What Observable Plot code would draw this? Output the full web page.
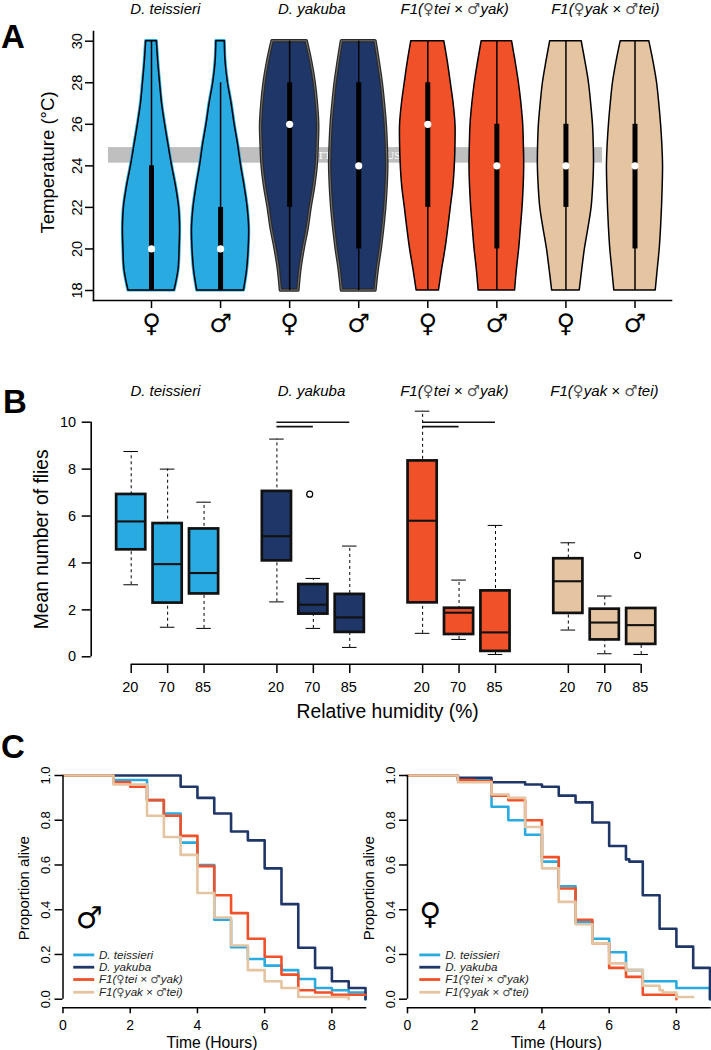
<!DOCTYPE html>
<html><head><meta charset="utf-8">
<script src="https://cdn.jsdelivr.net/npm/d3@7"></script>
<script src="https://cdn.jsdelivr.net/npm/@observablehq/plot@0.6"></script>
<style>
html,body{margin:0;padding:0;background:#fff}
#page{position:relative;width:711px;height:1050px;overflow:hidden;font-family:"Liberation Sans",Arial,sans-serif}
.panel{position:absolute;left:0;top:0;width:711px}
.panel svg{display:block;max-width:none}
.letter{position:absolute;font:bold 33px "Liberation Sans",Arial,sans-serif;color:#000;line-height:1}
</style></head><body><div id="page"></div>
<script>
// ---- shared ----
const groupNames = ["D. teissieri","D. yakuba","F1(♀tei × ♂yak)","F1(♀yak × ♂tei)"];
const BLUE="#29abe2", NAVY="#1f3668", RED="#f15129", TAN="#e5c4a1";
const groupColors = [BLUE,NAVY,RED,TAN];
const FONT='"Liberation Sans",Arial,sans-serif';
const SYMFONT='"DejaVu Sans"';

// ---- Panel A: violins ----
const temps = [18,19,20,21,22,23,24,25,26,27,28,29,30];
// half-widths in units of one violin slot, read at each temperature
const violinWidths = [
 [.333,.391,.406,.413,.399,.355,.297,.246,.196,.152,.123,.097,.077],
 [.338,.384,.406,.413,.391,.348,.297,.254,.203,.159,.106,.072,.061],
 [.126,.155,.203,.261,.304,.355,.391,.406,.413,.394,.362,.312,.246],
 [.242,.275,.319,.355,.384,.403,.413,.406,.391,.365,.333,.290,.242],
 [.162,.207,.257,.297,.333,.370,.391,.401,.401,.374,.333,.290,.239],
 [.264,.290,.323,.348,.372,.388,.396,.391,.381,.355,.319,.272,.220],
 [.200,.236,.275,.326,.372,.394,.406,.403,.391,.365,.333,.283,.228],
 [.300,.329,.358,.377,.391,.401,.406,.396,.377,.351,.319,.268,.207]
];
const violinGroup = [0,0,1,1,2,2,3,3];
const violinSex   = ["♀","♂","♀","♂","♀","♂","♀","♂"];
const whiskerLow  = [18,18,18,18,18,18,18,18];
const whiskerHigh = [30,28,30,30,30,30,30,30];
const boxLow      = [18,18,22,20,22,20,22,20];
const boxHigh     = [24,22,28,28,28,26,26,26];
const medians     = [20,20,26,24,26,24,24,24];
const bandTemp    = [24.13,24.88];
const bandSlot    = [0.377,7.53];
const titleSlotsA = [1.2,3.32,5.39,7.57];
const tempTicks   = [18,20,22,24,26,28,30];

const violinRows = violinWidths.flatMap((w,i)=>w.map((h,j)=>({slot:i+1,t:temps[j],x1:i+1-h,x2:i+1+h,g:violinGroup[i]})));
const slots = violinWidths.map((_,i)=>i+1);
const violinByGroup = g => violinRows.filter(d=>d.g===g);
const violinArea = (data,o) => Plot.areaX(data,{x1:"x1",x2:"x2",y:"t",z:"slot",curve:"catmull-rom",...o});

const plotA = Plot.plot({
  width:711,height:345,marginLeft:93,marginRight:40,marginTop:31,marginBottom:45,
  style:{fontFamily:FONT,background:"transparent",color:"#000",overflow:"visible"},
  x:{domain:[1,8],range:[151,634.5]},
  y:{domain:[18,30],range:[290,40.7]},
  marks:[
    Plot.rectY([0],{x1:()=>bandSlot[0],x2:()=>bandSlot[1],y1:()=>bandTemp[0],y2:()=>bandTemp[1],fill:"#bfbfbf"}),
    Plot.text(["TT"],{x:()=>3.5,y:()=>24.5,text:d=>d,fill:"#fff",fontFamily:"Liberation Serif",fontSize:11}),
    Plot.text(["US"],{x:()=>4.5,y:()=>24.5,text:d=>d,fill:"#fff",fontFamily:"Liberation Serif",fontSize:11}),
    violinArea(violinByGroup(0),{fill:BLUE,stroke:BLUE,strokeWidth:3.2}),
    violinArea(violinByGroup(0),{fill:BLUE,stroke:"#000",strokeWidth:1.5}),
    violinArea(violinByGroup(1),{fill:NAVY,stroke:"#2a2a2a",strokeWidth:3.6}),
    violinArea(violinByGroup(1),{fill:"none",stroke:"#6e6e6e",strokeWidth:1.1}),
    violinArea(violinByGroup(2),{fill:RED,stroke:"#000",strokeWidth:1.5}),
    violinArea(violinByGroup(3),{fill:TAN,stroke:"#000",strokeWidth:1.5}),
    Plot.ruleX(slots,{x:d=>d,y1:d=>whiskerLow[d-1],y2:d=>whiskerHigh[d-1],stroke:"#000",strokeWidth:1.5}),
    Plot.ruleX(slots,{x:d=>d,y1:d=>boxLow[d-1],y2:d=>boxHigh[d-1],stroke:"#000",strokeWidth:5}),
    Plot.dot(slots,{x:d=>d,y:d=>medians[d-1],r:3.6,fill:"#fff",stroke:"none"}),
    Plot.frame({anchor:"left",stroke:"#000",strokeWidth:1.6}),
    Plot.frame({anchor:"bottom",stroke:"#000",strokeWidth:1.6}),
    Plot.axisX(slots,{anchor:"bottom",tickSize:8,tickPadding:5,strokeWidth:1.5,tickFormat:d=>violinSex[d-1],fontSize:25.5,fontFamily:SYMFONT,label:null}),
    Plot.axisY(tempTicks,{anchor:"left",tickSize:8,tickPadding:4,strokeWidth:1.5,tickRotate:-90,fontSize:14.5,label:null}),
    Plot.text(["Temperature (°C)"],{frameAnchor:"left",rotate:-90,textAnchor:"middle",dx:-45,dy:-3.5,text:d=>d,fontSize:18.5}),
    Plot.text(groupNames,{x:(d,i)=>titleSlotsA[i],frameAnchor:"top",dy:-28,text:d=>d,fontStyle:"italic",fontSize:15})
  ]
});

// ---- Panel B: box plots ----
const humidity = [20,70,85,20,70,85,20,70,85,20,70,85];
const boxPos   = [1,2,3,5,6,7,9,10,11,13,14,15];
const boxGroup = [0,0,0,1,1,1,2,2,2,3,3,3];
const lowWhisk = [3.07,1.26,1.21,2.34,1.21,0.40,1.00,0.74,0.10,1.14,0.13,0.10];
const q1s      = [4.56,2.29,2.68,4.09,1.82,1.04,2.30,0.95,0.23,1.85,0.72,0.53];
const meds     = [5.77,3.95,3.57,5.14,2.22,1.68,5.80,1.88,1.04,3.22,1.46,1.35];
const q3s      = [6.92,5.68,5.45,7.05,3.08,2.66,8.35,2.07,2.81,4.18,2.03,2.06];
const highWhisk= [8.75,8.00,6.59,9.28,3.34,4.72,10.47,3.27,5.60,4.86,2.59,2.10];
const outlierPos = [6,15];
const outlierVal = [6.93,4.32];
const sigLong  = [{x1:5,x2:7,y:10},{x1:9,x2:11,y:10}];
const sigShort = [{x1:5,x2:6,y:9.81},{x1:9,x2:10,y:9.81}];
const flyTicks = [0,2,4,6,8,10];
const titlePosB = [1.94,5.95,9.87,13.99];
const idx = boxPos.map((_,i)=>i);
const axisLevelB = -0.32, axisSideB = -0.098;

const plotB = Plot.plot({
  width:711,height:350,marginLeft:90.7,marginRight:30,marginTop:51.7,marginBottom:56,
  style:{fontFamily:FONT,background:"transparent",color:"#000",overflow:"visible"},
  x:{domain:[1,15],range:[130.7,640.7]},
  y:{domain:[0,10],range:[286.3,51.7]},
  marks:[
    Plot.ruleX(idx,{x:i=>boxPos[i],y1:i=>lowWhisk[i],y2:i=>highWhisk[i],stroke:"#000",strokeWidth:1,strokeDasharray:"3,3"}),
    Plot.ruleY(idx,{y:i=>lowWhisk[i],x1:i=>boxPos[i]-.2,x2:i=>boxPos[i]+.2,stroke:"#000",strokeWidth:1}),
    Plot.ruleY(idx,{y:i=>highWhisk[i],x1:i=>boxPos[i]-.2,x2:i=>boxPos[i]+.2,stroke:"#000",strokeWidth:1}),
    Plot.rectY(idx,{x1:i=>boxPos[i]-.4,x2:i=>boxPos[i]+.4,y1:i=>q1s[i],y2:i=>q3s[i],fill:i=>groupColors[boxGroup[i]],stroke:"#111",strokeWidth:2.7}),
    Plot.ruleY(idx,{y:i=>meds[i],x1:i=>boxPos[i]-.4,x2:i=>boxPos[i]+.4,stroke:"#111",strokeWidth:2.1}),
    Plot.dot(outlierPos,{x:d=>d-.1,y:(d,i)=>outlierVal[i],r:3,stroke:"#000",strokeWidth:1.2,fill:"#fff"}),
    Plot.ruleY(sigLong,{x1:"x1",x2:"x2",y:"y",stroke:"#111",strokeWidth:1.6}),
    Plot.ruleY(sigShort,{x1:"x1",x2:"x2",y:"y",stroke:"#111",strokeWidth:1.6}),
    Plot.ruleX([axisSideB],{y1:0,y2:10,stroke:"#000",strokeWidth:1.6}),
    Plot.ruleY([axisLevelB],{x1:1,x2:15,stroke:"#000",strokeWidth:1.6}),
    Plot.axisY(flyTicks,{anchor:"left",tickSize:9,tickPadding:6,strokeWidth:1.5,fontSize:14.5,label:null}),
    Plot.axisX(boxPos,{anchor:"bottom",tickSize:9,tickPadding:0,strokeWidth:1.5,tickFormat:()=>"",label:null}),
    Plot.axisX(boxPos,{anchor:"bottom",tickSize:0,tickPadding:17,dx:-1,fontSize:14.5,label:null,tickFormat:d=>String(humidity[boxPos.indexOf(d)])}),
    Plot.text(["Mean number of flies"],{frameAnchor:"left",rotate:-90,textAnchor:"middle",dx:-49,dy:-4,text:d=>d,fontSize:19.3}),
    Plot.text(["Relative humidity (%)"],{frameAnchor:"bottom",x:()=>8.04,dy:53,text:d=>d,fontSize:19.3}),
    Plot.text(groupNames,{x:(d,i)=>titlePosB[i],frameAnchor:"top",dy:-37,text:d=>d,fontStyle:"italic",fontSize:15})
  ]
});

// ---- Panel C: survival curves ----
const timesMale = [0,1.5,2,2.5,3,3.5,4,4.5,5,5.5,6,6.5,7,7.5,8,8.5,9];
const maleTei = [1,.98,.98,.89,.83,.70,.60,.355,.232,.18,.15,.13,.09,.05,.04,.03,0];
const maleYak = [1,1,1,1,1,.95,.90,.83,.75,.71,.585,.425,.23,.14,.08,.05,0];
const maleF1a = [1,.97,.95,.89,.82,.73,.595,.465,.385,.27,.19,.11,.04,.03,.02,.02,.02];
const maleF1b = [1,.96,.96,.82,.725,.645,.475,.365,.24,.13,.08,.05,.01,.01,.01,0,null];

const timesFem  = [0,1.5,2,2.5,3,3.5,4,4.5,5,5.5,6,6.5,6.6,7,7.5,7.6,8,8.5,9];
const femTei = [1,.98,.98,.86,.80,.735,.615,.505,.345,.27,.21,.13,.13,.08,.08,.08,.05,.05,0];
const femYak = [1,.99,.99,.97,.97,.96,.95,.91,.88,.79,.685,.625,.615,.465,.315,.315,.235,.14,0];
const femF1a = [1,.98,.975,.91,.89,.80,.635,.495,.355,.25,.14,.10,.10,.02,.02,.02,0,null,null];
const femF1b = [1,.97,.97,.915,.90,.77,.585,.435,.335,.25,.16,.13,.13,.06,.04,.03,.01,.01,null];

const timeTicks=[0,2,4,6,8];
const propTicks=[0,.2,.4,.6,.8,1];
const legendYs=[.198,.143,.088,.031];

function survival(times,series,sym,opt){
  const rows=series.map((s,k)=>times.map((t,i)=>({t,v:s[i],k}))).flat().filter(d=>d.v!==null);
  const legend=groupNames.map((n,i)=>({n,i,y:legendYs[i]}));
  return Plot.plot({
    width:711,height:320,marginLeft:opt.left,marginRight:711-opt.right,marginTop:45,marginBottom:42.7,
    style:{fontFamily:FONT,background:"transparent",color:"#000",overflow:"visible"},
    x:{domain:[0,9],range:[opt.left,opt.right]},
    y:{domain:[0,1],range:[268.7,45]},
    marks:[
      Plot.line(rows.filter(d=>d.k===0),{x:"t",y:"v",curve:"step-after",stroke:BLUE,strokeWidth:2.6}),
      Plot.line(rows.filter(d=>d.k===1),{x:"t",y:"v",curve:"step-after",stroke:NAVY,strokeWidth:2.6}),
      Plot.line(rows.filter(d=>d.k===2),{x:"t",y:"v",curve:"step-after",stroke:RED,strokeWidth:2.6}),
      Plot.line(rows.filter(d=>d.k===3),{x:"t",y:"v",curve:"step-after",stroke:TAN,strokeWidth:2.6}),
      Plot.ruleX([0],{y1:0,y2:1,stroke:"#000",strokeWidth:1.5}),
      Plot.frame({anchor:"bottom",stroke:"#000",strokeWidth:1.5}),
      Plot.axisX(timeTicks,{anchor:"bottom",tickSize:6,tickPadding:6,strokeWidth:1.5,fontSize:14,label:null,tickFormat:d=>String(d)}),
      Plot.axisY(propTicks,{anchor:"left",tickSize:8,tickPadding:5,strokeWidth:1.5,tickRotate:-90,fontSize:13,label:null,tickFormat:d=>d.toFixed(1)}),
      Plot.ruleY(legend,{y:"y",x1:()=>opt.lx1,x2:()=>opt.lx2,stroke:d=>groupColors[d.i],strokeWidth:2.8}),
      Plot.text(legend,{y:"y",x:()=>opt.lx3,text:"n",textAnchor:"start",fontStyle:"italic",fontSize:11.6,fill:"#222"}),
      Plot.text([sym],{x:()=>opt.sx,y:()=>opt.sy,text:d=>d,fontFamily:SYMFONT,fontSize:30,fill:"#000"}),
      Plot.text(["Proportion alive"],{frameAnchor:"left",rotate:-90,textAnchor:"middle",dx:-38.5,dy:-3.5,text:d=>d,fontSize:15}),
      Plot.text(["Time (Hours)"],{frameAnchor:"bottom",x:()=>4.43,dy:40,text:d=>d,fontSize:15.7})
    ]
  });
}
const plotC1=survival(timesMale,[maleTei,maleYak,maleF1a,maleF1b],"♂",{left:62.5,right:365,lx1:.32,lx2:.945,lx3:1.07,sx:.78,sy:.36});
const plotC2=survival(timesFem,[femTei,femYak,femF1a,femF1b],"♀",{left:407,right:709.5,lx1:.366,lx2:.99,lx3:1.12,sx:.68,sy:.38});

// Sex symbols inside the group names use a larger, thinner glyph, lighter in colour
function restyleSymbols(svg){
  svg.querySelectorAll("text").forEach(t=>{
    const s=t.textContent;
    if(s.length<2||!/[♀♂]/.test(s))return;
    while(t.firstChild)t.removeChild(t.firstChild);
    s.split(/([♀♂])/).forEach(part=>{
      if(!part)return;
      const sp=document.createElementNS("http://www.w3.org/2000/svg","tspan");
      sp.textContent=part;
      if(/[♀♂]/.test(part)){sp.setAttribute("font-family",SYMFONT);sp.setAttribute("font-style","normal");sp.setAttribute("fill","#555");}
      t.appendChild(sp);
    });
  });
}
[plotA,plotB,plotC1,plotC2].forEach(restyleSymbols);

// ---- page assembly ----
const page=document.getElementById("page");
function place(el,top){const d=document.createElement("div");d.className="panel";d.style.top=top+"px";d.appendChild(el);page.appendChild(d);}
place(plotA,0);place(plotB,370);place(plotC1,730);place(plotC2,730);
[["A",1,20],["B",3,385],["C",1,730]].forEach(([t,x,y])=>{const e=document.createElement("div");e.className="letter";e.textContent=t;e.style.left=x+"px";e.style.top=y+"px";page.appendChild(e);});
</script></body></html>
